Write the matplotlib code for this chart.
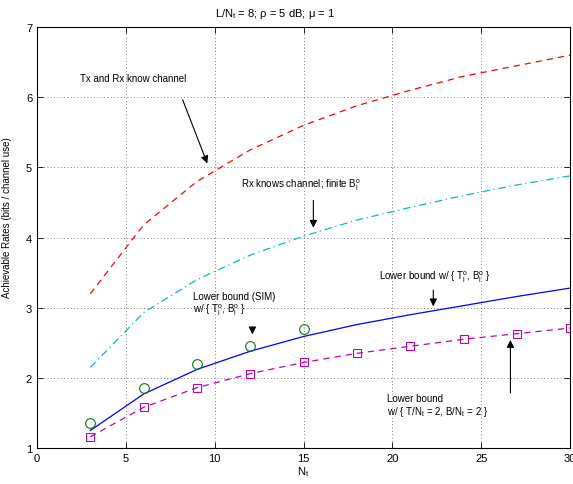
import matplotlib
matplotlib.use("Agg")
import matplotlib.pyplot as plt
import numpy as np

plt.rcParams['font.family'] = ['Liberation Sans', 'DejaVu Sans']
plt.rcParams['mathtext.default'] = 'regular'

nt = [3, 6, 9, 12, 15, 18, 21, 24, 27, 30]
tx_rx_know = [3.2, 4.18, 4.8, 5.25, 5.6, 5.88, 6.1, 6.3, 6.45, 6.6]
rx_knows = [2.15, 2.93, 3.4, 3.75, 4.02, 4.25, 4.43, 4.6, 4.75, 4.88]
lower_opt = [1.25, 1.77, 2.12, 2.38, 2.59, 2.76, 2.9, 3.03, 3.16, 3.28]
lower_fixed = [1.16, 1.58, 1.86, 2.06, 2.22, 2.35, 2.45, 2.55, 2.63, 2.71]
nt_sim = [3, 6, 9, 12, 15]
lower_sim = [1.35, 1.85, 2.2, 2.45, 2.69]

fig = plt.figure(figsize=(5.73, 4.85), dpi=100)
ax = fig.add_axes([0.0646, 0.0742, 0.9304, 0.8678])

ax.plot(nt, tx_rx_know, color='red', linestyle=(0, (5, 4)), linewidth=0.9)
ax.plot(nt, rx_knows, color='#00bfbf', linestyle=(0, (6, 3, 1, 3)), linewidth=0.9)
ax.plot(nt, lower_opt, color='#0000ff', linestyle='-', linewidth=0.9)
ax.plot(nt, lower_fixed, color='#bf00bf', linestyle=(0, (5, 4)), linewidth=0.9,
        marker='s', markersize=5.5, markerfacecolor='none', markeredgecolor='#bf00bf', markeredgewidth=0.8)
ax.plot(nt_sim, lower_sim, linestyle='none', marker='o', markersize=7,
        markerfacecolor='none', markeredgecolor='#008000', markeredgewidth=0.8)

ax.set_xlim(0, 30)
ax.set_ylim(1, 7)
ax.set_xticks([0, 5, 10, 15, 20, 25, 30])
ax.set_yticks([1, 2, 3, 4, 5, 6, 7])
ax.grid(True, linestyle=(0, (1, 3)), color='#555555', linewidth=0.6)
ax.tick_params(direction='in', top=True, right=True, labelsize=8, length=4, width=0.6)
for s in ax.spines.values():
    s.set_linewidth(0.8)

ax.set_xlabel('N$_t$', fontsize=8, labelpad=1)
ax.set_ylabel('Achievable Rates (bits / channel use)', fontsize=7)
ax.yaxis.set_label_coords(-0.047, 0.549)
fig.text(275 / 573, 1 - 14 / 485, 'L/N$_t$ = 8; ρ = 5 dB; μ = 1', fontsize=8,
         ha='center', va='center')

fs = 7
aprops = dict(arrowstyle='-|>', color='black', linewidth=0.8, mutation_scale=11)
ax.text(2.42, 6.28, 'Tx and Rx know channel', fontsize=fs, va='center', ha='left')
ax.annotate('', xy=(9.64, 5.02), xytext=(8.14, 6.0), arrowprops=aprops)

ax.text(11.46, 4.76, 'Rx knows channel; finite B$_l^o$', fontsize=fs, va='center', ha='left')
ax.annotate('', xy=(15.55, 4.1), xytext=(15.55, 4.57), arrowprops=aprops)

ax.text(8.76, 3.05, 'Lower bound (SIM)\nw/ { T$_l^o$, B$_l^o$ }', fontsize=fs, va='center', ha='left',
        linespacing=1.1)
ax.annotate('', xy=(12.12, 2.58), xytext=(12.12, 2.77), arrowprops=aprops)

ax.text(19.26, 3.45, 'Lower bound w/ { T$_l^o$, B$_l^o$ }', fontsize=fs, va='center', ha='left')
ax.annotate('', xy=(22.3, 2.98), xytext=(22.3, 3.29), arrowprops=aprops)

ax.text(19.68, 1.6, 'Lower bound\nw/ { T/N$_t$ = 2, B/N$_t$ = 2 }', fontsize=fs, va='center', ha='left',
        linespacing=1.1)
ax.annotate('', xy=(26.64, 2.58), xytext=(26.64, 1.745), arrowprops=aprops)

fig.savefig('out.png', dpi=100)
